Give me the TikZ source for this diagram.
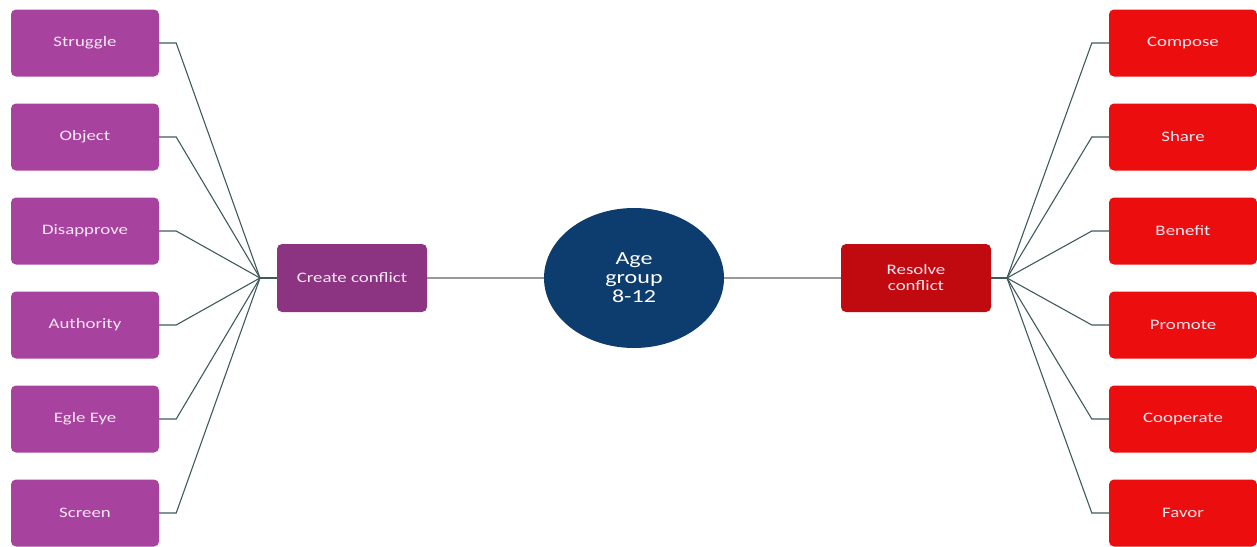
\documentclass[tikz,border=0pt]{standalone}
\usepackage{fontspec}
\usetikzlibrary{shapes.geometric}
\setmainfont[FakeStretch=1.3]{Carlito}
\definecolor{leafL}{HTML}{A8429F}
\definecolor{hubL}{HTML}{8C3382}
\definecolor{core}{HTML}{0D3D6E}
\definecolor{hubR}{HTML}{C10A10}
\definecolor{leafR}{HTML}{EC0E0E}
\definecolor{wire}{HTML}{3F5A5C}
\definecolor{txt}{HTML}{F6E8F2}
\tikzset{
  box/.style={rounded corners=5pt, minimum width=148pt, minimum height=67pt, inner sep=0pt, text=txt, font=\fontsize{14.5}{16}\selectfont, align=center},
  leafl/.style={box, fill=leafL},
  leafr/.style={box, fill=leafR},
  wire/.style={draw=wire, line width=1.1pt},
  cwire/.style={draw=gray!80, line width=1.1pt}
}
\begin{document}
\begin{tikzpicture}[x=1pt,y=-1pt]
\useasboundingbox (0,0) rectangle (1257,546);
\node[ellipse, fill=core, minimum width=180pt, minimum height=140pt, inner sep=0pt, text=white, font=\fontsize{18.5}{19}\selectfont, align=center] (age) at (634,278) {Age\\group\\8-12};
\node[box, fill=hubL, minimum width=150pt, minimum height=68pt] (cc) at (352,278) {Create conflict};
\node[box, fill=hubR, minimum width=150pt, minimum height=68pt] (rc) at (916,278) {Resolve\\conflict};
\draw[cwire] (cc.east) -- (age.west);
\draw[cwire] (age.east) -- (rc.west);
\coordinate (hl) at (260,278);
\coordinate (hr) at (1007,278);
\draw[wire] (hl) -- (cc.west);
\draw[wire] (rc.east) -- (hr);
\foreach \n/\t/\y in {1/Struggle/43, 2/Object/137, 3/Disapprove/231, 4/Authority/325, 5/Egle Eye/419, 6/Screen/513} {
  \node[leafl] (l\n) at (85,\y) {\t};
  \draw[wire] (l\n.east) -- ++(17,0) -- (hl);
}
\foreach \n/\t/\y in {1/Compose/43, 2/Share/137, 3/Benefit/231, 4/Promote/325, 5/Cooperate/419, 6/Favor/513} {
  \node[leafr] (r\n) at (1183,\y) {\t};
  \draw[wire] (r\n.west) -- ++(-17,0) -- (hr);
}
\end{tikzpicture}
\end{document}
